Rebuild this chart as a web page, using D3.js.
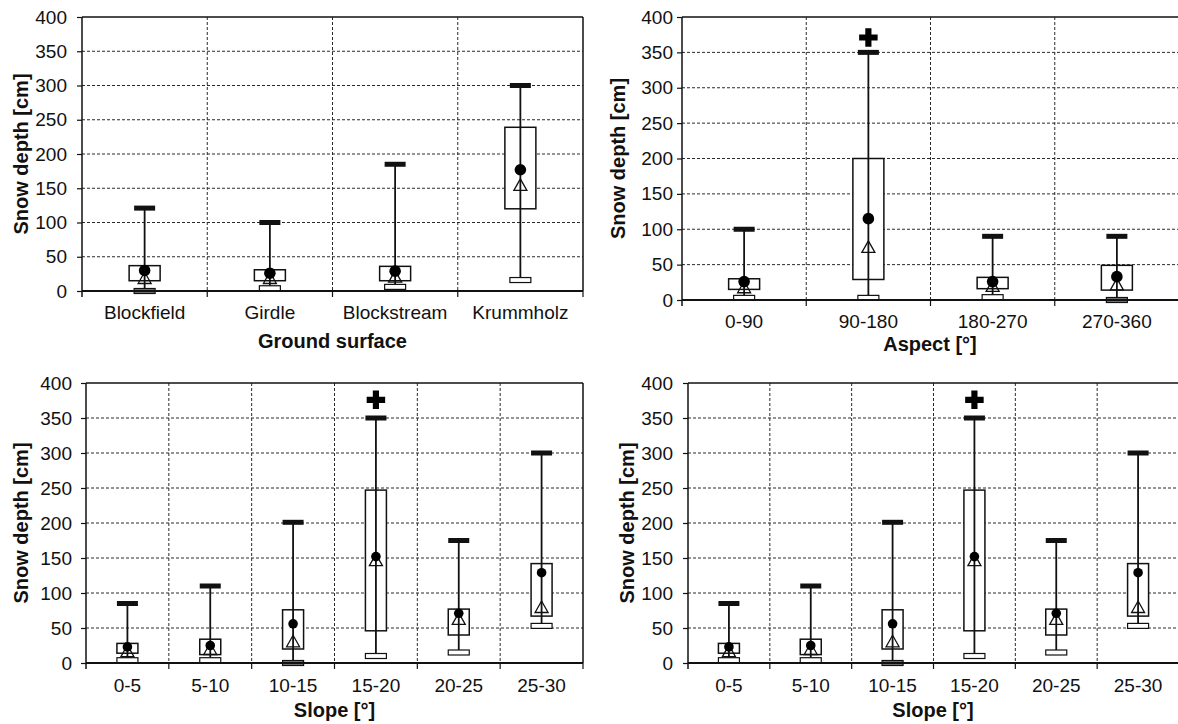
<!DOCTYPE html>
<html><head><meta charset="utf-8">
<script src="https://cdn.jsdelivr.net/npm/d3@7"></script>
<style>body{margin:0;background:#fff}svg{display:block}text{font-family:"Liberation Sans",Arial,sans-serif;fill:#111}</style>
</head><body><svg id="c" width="1178" height="724"></svg>
<script>
// ---- data ----
const yTicks = [0, 50, 100, 150, 200, 250, 300, 350, 400];
const yTitle = "Snow depth [cm]";

const groundCats = ["Blockfield", "Girdle", "Blockstream", "Krummholz"];
const groundMin = [0, 4, 6, 16];
const groundQ1 = [15, 15, 15, 120];
const groundMedian = [19, 19, 21, 155];
const groundMean = [30, 26, 29, 177];
const groundQ3 = [37, 31, 36, 239];
const groundMax = [121, 100, 185, 300];
const groundOutlier = [null, null, null, null];

const aspectCats = ["0-90", "90-180", "180-270", "270-360"];
const aspectMin = [3, 3, 4, 0];
const aspectQ1 = [15, 29, 16, 14];
const aspectMedian = [18, 75, 20, 22];
const aspectMean = [26, 115, 26, 33];
const aspectQ3 = [30, 200, 32, 49];
const aspectMax = [100, 350, 90, 90];
const aspectOutlier = [null, 371, null, null];

const slopeCats = ["0-5", "5-10", "10-15", "15-20", "20-25", "25-30"];
const slopeMin = [4, 4, 0, 10, 15, 53];
const slopeQ1 = [14, 12, 20, 46, 40, 67];
const slopeMedian = [17, 20, 31, 147, 63, 80];
const slopeMean = [23, 25, 56, 152, 71, 129];
const slopeQ3 = [28, 34, 76, 247, 77, 142];
const slopeMax = [85, 110, 201, 350, 175, 300];
const slopeOutlier = [null, null, null, 376, null, null];

function rows(cats, mn, q1, md, me, q3, mx, out) {
  return cats.map((c, i) => ({cat: c, min: mn[i], q1: q1[i], med: md[i], mean: me[i], q3: q3[i], max: mx[i], out: out[i]}));
}

const panels = [
  {data: rows(groundCats, groundMin, groundQ1, groundMedian, groundMean, groundQ3, groundMax, groundOutlier),
   xTitle: "Ground surface", L: 82, R: 583, T: 17, B: 291, boxW: 31, capW: 21, dotR: 5.8,
   tickGap: 15, yTitleX: 21, labBase: 319, titleBase: 348},
  {data: rows(aspectCats, aspectMin, aspectQ1, aspectMedian, aspectMean, aspectQ3, aspectMax, aspectOutlier),
   xTitle: "Aspect [°]", L: 682, R: 1179, T: 17, B: 300, boxW: 31, capW: 21, dotR: 5.8,
   tickGap: 9, yTitleX: 618, labBase: 328, titleBase: 351},
  {data: rows(slopeCats, slopeMin, slopeQ1, slopeMedian, slopeMean, slopeQ3, slopeMax, slopeOutlier),
   xTitle: "Slope [°]", L: 86, R: 583, T: 383, B: 663, boxW: 21, capW: 21, dotR: 4.8,
   tickGap: 14, yTitleX: 21, labBase: 692, titleBase: 717},
  {data: rows(slopeCats, slopeMin, slopeQ1, slopeMedian, slopeMean, slopeQ3, slopeMax, slopeOutlier),
   xTitle: "Slope [°]", L: 688, R: 1179, T: 383, B: 663, boxW: 21, capW: 21, dotR: 4.8,
   tickGap: 15, yTitleX: 627, labBase: 692, titleBase: 717}
];

const svg = d3.select("#c");
const FS = 19;

panels.forEach(p => {
  const g = svg.append("g");
  const x = d3.scaleBand().domain(p.data.map(d => d.cat)).range([p.L, p.R]);
  const y = d3.scaleLinear().domain([0, 400]).range([p.B, p.T]);
  const bw = x.bandwidth();
  const cx = d => x(d.cat) + bw / 2;
  const bounds = p.data.map(d => x(d.cat)).concat([p.R]);

  // horizontal gridlines
  g.selectAll(".hg").data(yTicks.filter(t => t > 0 && t < 400)).join("line")
    .attr("x1", p.L).attr("x2", p.R).attr("y1", d => y(d)).attr("y2", d => y(d))
    .attr("stroke", "#2a2a2a").attr("stroke-width", 1).attr("stroke-dasharray", "3,2");
  // vertical gridlines at category boundaries
  g.selectAll(".vg").data(bounds.slice(1, -1)).join("line")
    .attr("x1", d => d).attr("x2", d => d).attr("y1", p.T).attr("y2", p.B)
    .attr("stroke", "#2a2a2a").attr("stroke-width", 1).attr("stroke-dasharray", "3,2");

  // boxes
  const items = g.selectAll(".item").data(p.data).join("g");
  items.append("rect")
    .attr("x", d => cx(d) - p.boxW / 2).attr("width", p.boxW)
    .attr("y", d => y(d.q3)).attr("height", d => y(d.q1) - y(d.q3))
    .attr("fill", "#fff").attr("stroke", "#111").attr("stroke-width", 1.5);
  items.append("line")
    .attr("x1", cx).attr("x2", cx).attr("y1", d => y(d.min)).attr("y2", d => y(d.max))
    .attr("stroke", "#111").attr("stroke-width", 1.8);
  items.append("rect")
    .attr("x", d => cx(d) - p.capW / 2).attr("width", p.capW)
    .attr("y", d => y(d.max) - 2.5).attr("height", 5).attr("fill", "#111");
  items.append("rect")
    .attr("x", d => cx(d) - p.capW / 2).attr("width", p.capW)
    .attr("y", d => y(d.min) - 2.5).attr("height", 5)
    .attr("fill", d => d.min === 0 ? "#777" : "#fff").attr("stroke", "#111").attr("stroke-width", 1.2);
  // median triangle
  items.append("path")
    .attr("d", "M0,-6L6.5,5.5L-6.5,5.5Z")
    .attr("transform", d => `translate(${cx(d)},${y(d.med)})`)
    .attr("fill", "none").attr("stroke", "#111").attr("stroke-width", 1.3);
  // mean dot
  items.append("circle")
    .attr("cx", cx).attr("cy", d => y(d.mean)).attr("r", p.dotR).attr("fill", "#000");
  // outliers
  items.filter(d => d.out != null).append("path")
    .attr("d", d3.symbol(d3.symbolCross, 190))
    .attr("transform", d => `translate(${cx(d)},${y(d.out)})`)
    .attr("fill", "#000");

  // frame: top and right
  g.append("line").attr("x1", p.L).attr("x2", p.R).attr("y1", p.T).attr("y2", p.T)
    .attr("stroke", "#111").attr("stroke-width", 1.5);
  g.append("line").attr("x1", p.R).attr("x2", p.R).attr("y1", p.T).attr("y2", p.B)
    .attr("stroke", "#111").attr("stroke-width", 1.5);

  // y axis
  const ya = g.append("g").attr("transform", `translate(${p.L},0)`)
    .call(d3.axisLeft(y).tickValues(yTicks).tickSize(5).tickPadding(p.tickGap - 5).tickSizeOuter(0));
  ya.select(".domain").attr("stroke", "#111").attr("stroke-width", 1.5)
    .attr("d", `M0,${p.B + 6}V${p.T}`);
  ya.selectAll(".tick line").attr("stroke", "#111").attr("stroke-width", 1.2);
  ya.selectAll(".tick text").attr("font-size", FS).attr("font-family", "Liberation Sans, Arial, sans-serif").attr("fill", "#111");

  // x axis (labels at band centres, ticks at boundaries)
  const xa = g.append("g").attr("transform", `translate(0,${p.B})`)
    .call(d3.axisBottom(x).tickSize(0).tickPadding(0).tickSizeOuter(0));
  xa.select(".domain").attr("stroke", "#111").attr("stroke-width", 1.8).attr("d", `M${p.L},0H${p.R}`);
  xa.selectAll(".tick text").attr("font-size", FS).attr("font-family", "Liberation Sans, Arial, sans-serif")
    .attr("fill", "#111").attr("dy", 0).attr("y", p.labBase - p.B);
  g.selectAll(".xt").data(bounds.slice(1)).join("line")
    .attr("x1", d => d).attr("x2", d => d).attr("y1", p.B).attr("y2", p.B + 6)
    .attr("stroke", "#111").attr("stroke-width", 1.2);

  // titles
  g.append("text").attr("x", (p.L + Math.min(p.R, 1178)) / 2).attr("y", p.titleBase)
    .attr("text-anchor", "middle").attr("font-size", 20).attr("font-weight", "bold").text(p.xTitle);
  g.append("text").attr("transform", `translate(${p.yTitleX + 7},${(p.T + p.B) / 2}) rotate(-90)`)
    .attr("text-anchor", "middle").attr("font-size", 20).attr("font-weight", "bold").text(yTitle);
});
</script></body></html>
